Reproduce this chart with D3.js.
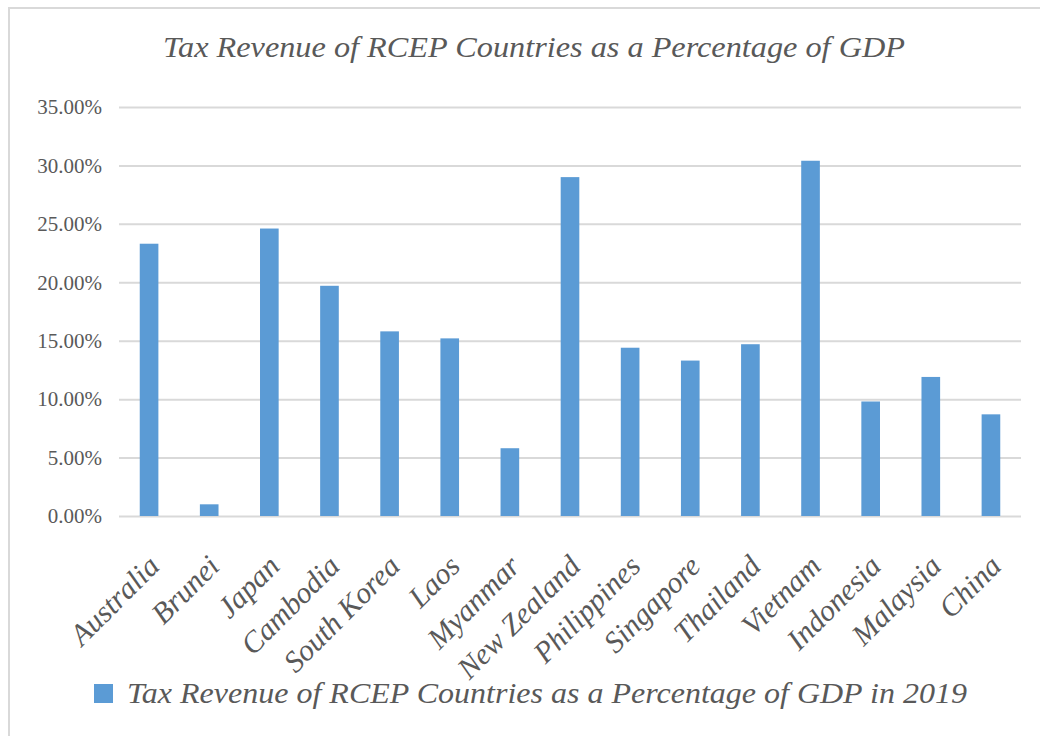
<!DOCTYPE html>
<html>
<head>
<meta charset="utf-8">
<script src="https://cdn.jsdelivr.net/npm/d3@7"></script>
<style>
  html, body { margin: 0; padding: 0; background: #ffffff; }
  svg { display: block; }
</style>
</head>
<body>
<svg id="chart" width="1040" height="736"></svg>
<script>
const countries = ["Australia","Brunei","Japan","Cambodia","South Korea","Laos","Myanmar","New Zealand","Philippines","Singapore","Thailand","Vietnam","Indonesia","Malaysia","China"];
const taxRevenuePct = [23.3, 1.0, 24.6, 19.7, 15.8, 15.2, 5.8, 29.0, 14.4, 13.3, 14.7, 30.4, 9.8, 11.9, 8.7];
const yTicks = [0, 5, 10, 15, 20, 25, 30, 35];
const titleText = "Tax Revenue of RCEP Countries as a Percentage of GDP";
const legendText = "Tax Revenue of RCEP Countries as a Percentage of GDP in 2019";

const svg = d3.select("#chart");
const barColor = "#5b9bd5";
const textColor = "#595959";
const gridColor = "#d9d9d9";
const serif = 'Times New Roman, Times, Tinos, Liberation Serif, DejaVu Serif, Noto Serif, serif';

// outer frame
svg.append("rect").attr("x", 9).attr("y", 8).attr("width", 1100).attr("height", 800)
  .attr("fill", "none").attr("stroke", gridColor).attr("stroke-width", 2);

const x = d3.scaleBand().domain(countries).range([119, 1021]).paddingInner(0.69).paddingOuter(0.345);
const y = d3.scaleLinear().domain([0, 35]).range([516, 107]);

// title
svg.append("text").attr("x", 534).attr("y", 57).attr("text-anchor", "middle")
  .style("font-family", serif).style("font-style", "italic").style("font-size", "30px")
  .attr("fill", textColor).attr("textLength", 742).attr("lengthAdjust", "spacingAndGlyphs")
  .text(titleText);

// gridlines + y axis
const yAxis = d3.axisLeft(y).tickValues(yTicks).tickSize(-(1021 - 119)).tickPadding(17)
  .tickFormat(d => d.toFixed(2) + "%");
const gy = svg.append("g").attr("transform", "translate(119,0)").call(yAxis);
gy.attr("font-family", null).attr("font-size", null);
gy.select(".domain").remove();
gy.selectAll(".tick line").attr("stroke", gridColor).attr("stroke-width", 2);
gy.selectAll(".tick text").style("font-family", serif).style("font-size", "21px").attr("fill", textColor);

// bars
svg.append("g").selectAll("rect").data(countries).join("rect")
  .attr("x", d => x(d))
  .attr("width", x.bandwidth())
  .attr("y", (d, i) => y(taxRevenuePct[i]))
  .attr("height", (d, i) => y(0) - y(taxRevenuePct[i]))
  .attr("fill", barColor);

// x labels
const xAxis = d3.axisBottom(x).tickSize(0).tickPadding(0);
const gx = svg.append("g").attr("transform", "translate(0,516)").call(xAxis);
gx.attr("font-family", null).attr("font-size", null);
gx.select(".domain").remove();
gx.selectAll(".tick text")
  .style("font-family", serif).style("font-style", "italic").style("font-size", "30px")
  .attr("fill", textColor).attr("text-anchor", "end").attr("dy", 0)
  .attr("transform", "translate(12,52) rotate(-45)");

// legend
svg.append("rect").attr("x", 94).attr("y", 684).attr("width", 19).attr("height", 19).attr("fill", barColor);
svg.append("text").attr("x", 127).attr("y", 703)
  .style("font-family", serif).style("font-style", "italic").style("font-size", "30px")
  .attr("fill", textColor).attr("textLength", 840).attr("lengthAdjust", "spacingAndGlyphs")
  .text(legendText);
</script>
</body>
</html>
